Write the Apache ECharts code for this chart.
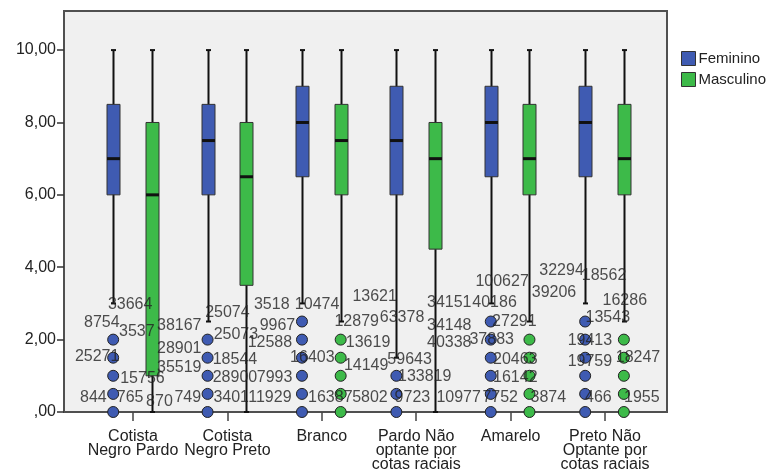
<!DOCTYPE html>
<html>
<head>
<meta charset="utf-8">
<script src="https://cdn.jsdelivr.net/npm/echarts@6/dist/echarts.min.js"></script>
<style>
  html, body { margin: 0; background: #fff; }
  #main { width: 776px; height: 470px; }
</style>
</head>
<body>
<div id="main"></div>
<script>
var categories = ['Cotista\nNegro Pardo', 'Cotista\nNegro Preto', 'Branco', 'Pardo Não\noptante por\ncotas raciais', 'Amarelo', 'Preto Não\nOptante por\ncotas raciais'];
var yTicks = [0, 2, 4, 6, 8, 10];

// [min, Q1, mediana, Q3, max] por grupo
var femininoBox = [[3, 6, 7, 8.5, 10], [2.5, 6, 7.5, 8.5, 10], [3, 6.5, 8, 9, 10], [1.5, 6, 7.5, 9, 10], [3, 6.5, 8, 9, 10], [3, 6.5, 8, 9, 10]];
var masculinoBox = [[0, 1, 6, 8, 10], [0, 3.5, 6.5, 8, 10], [2.5, 6, 7.5, 8.5, 10], [0, 4.5, 7, 8, 10], [2.5, 6, 7, 8.5, 10], [2.5, 6, 7, 8.5, 10]];

// outliers por grupo
var femininoOut = [[2, 1.5, 1, 0.5, 0], [2, 1.5, 1, 0.5, 0], [2.5, 2, 1.5, 1, 0.5, 0], [1, 0.5, 0], [2.5, 2, 1.5, 1, 0.5, 0], [2.5, 2, 1.5, 1, 0.5, 0]];
var masculinoOut = [[], [], [2, 1.5, 1, 0.5, 0], [], [2, 1.5, 1, 0.5, 0], [2, 1.5, 1, 0.5, 0]];

// rótulos dos casos: [id, grupo (x), nota (y)]
var caseLabels = [
  ['33664', -0.03, 2.98], ['8754', -0.33, 2.46], ['3537', 0.04, 2.21], ['25271', -0.38, 1.52],
  ['15756', 0.10, 0.91], ['844', -0.42, 0.39], ['765', -0.03, 0.39], ['870', 0.28, 0.30],
  ['38167', 0.49, 2.40], ['28901', 0.49, 1.74], ['35519', 0.49, 1.24], ['749', 0.58, 0.41],
  ['25074', 1.00, 2.76], ['25073', 1.09, 2.15], ['18544', 1.08, 1.46], ['28900', 1.08, 0.94],
  ['3401', 1.04, 0.39], ['11929', 1.45, 0.39],
  ['3518', 1.47, 2.96], ['10474', 1.95, 2.96], ['9967', 1.53, 2.40], ['12588', 1.45, 1.91],
  ['16403', 1.90, 1.49], ['7993', 1.50, 0.94], ['12879', 2.37, 2.49], ['13619', 2.49, 1.93],
  ['14149', 2.47, 1.27], ['16387', 2.09, 0.41], ['5802', 2.51, 0.41], ['9723', 2.96, 0.41],
  ['13621', 2.56, 3.18], ['63378', 2.85, 2.62], ['59643', 2.93, 1.46], ['133819', 3.09, 0.97],
  ['34151', 3.35, 3.01], ['40186', 3.83, 3.01], ['34148', 3.35, 2.40], ['40338', 3.35, 1.91],
  ['10977', 3.45, 0.41], ['7752', 3.89, 0.41],
  ['100627', 3.91, 3.59], ['27291', 4.04, 2.49], ['37883', 3.80, 1.99], ['20463', 4.05, 1.44],
  ['16142', 4.05, 0.94], ['3874', 4.40, 0.39], ['32294', 4.54, 3.92], ['39206', 4.46, 3.29],
  ['18562', 4.99, 3.76], ['16286', 5.21, 3.09], ['13543', 5.03, 2.60], ['19413', 4.84, 1.96],
  ['19759', 4.84, 1.38], ['18247', 5.35, 1.49], ['466', 4.93, 0.39], ['1955', 5.39, 0.39]
];

var FEM_COLOR = '#3f5bb2';
var MASC_COLOR = '#3dba49';
var FEM_OFFSET = -0.21;
var MASC_OFFSET = 0.2;
var FONT = 'Arial, "Liberation Sans", sans-serif';

var chartDom = document.getElementById('main');
var myChart = echarts.init(chartDom);
var option;

function boxData(list) {
  return list.map(function (b, i) {
    return [i].concat(b);
  });
}

function outlierData(list, offset) {
  var out = [];
  list.forEach(function (vals, i) {
    vals.forEach(function (v) {
      out.push([i + offset, v]);
    });
  });
  return out;
}

// desenha caixa estilo SPSS
function renderBox(offset) {
  return function (params, api) {
    var x = api.value(0) + offset;
    var pMin = api.coord([x, api.value(1)]);
    var pQ1 = api.coord([x, api.value(2)]);
    var pMed = api.coord([x, api.value(3)]);
    var pQ3 = api.coord([x, api.value(4)]);
    var pMax = api.coord([x, api.value(5)]);
    var cx = Math.round(pMin[0]) + 0.5;
    var hw = 6.5;
    var cap = 2.5;
    var line = { stroke: '#111', lineWidth: 2 };
    return {
      type: 'group',
      children: [
        { type: 'line', shape: { x1: cx, y1: pMax[1], x2: cx, y2: pMin[1] }, style: line },
        { type: 'line', shape: { x1: cx - cap, y1: pMax[1], x2: cx + cap, y2: pMax[1] }, style: line },
        { type: 'line', shape: { x1: cx - cap, y1: pMin[1], x2: cx + cap, y2: pMin[1] }, style: line },
        {
          type: 'rect',
          shape: { x: cx - hw, y: pQ3[1], width: hw * 2, height: pQ1[1] - pQ3[1] },
          style: { fill: api.visual('color'), stroke: '#333', lineWidth: 1 }
        },
        { type: 'line', shape: { x1: cx - hw, y1: pMed[1], x2: cx + hw, y2: pMed[1] }, style: { stroke: '#111', lineWidth: 3 } }
      ]
    };
  };
}

option = {
  animation: false,
  textStyle: { fontFamily: FONT },
  legend: {
    data: ['Feminino', 'Masculino'],
    orient: 'vertical',
    left: 681,
    top: 51,
    icon: 'rect',
    itemWidth: 14,
    itemHeight: 14,
    itemGap: 6,
    padding: 0,
    itemStyle: { borderColor: '#333', borderWidth: 1 },
    textStyle: { fontSize: 15, color: '#222', fontFamily: FONT, padding: [0, 0, 0, -2] }
  },
  grid: {
    show: true,
    left: 64,
    right: 109,
    top: 11,
    bottom: 58,
    outerBoundsMode: 'none',
    containLabel: false,
    backgroundColor: '#f0f0f0',
    borderColor: '#505050',
    borderWidth: 2
  },
  xAxis: {
    type: 'value',
    min: -0.731,
    max: 5.657,
    splitLine: { show: false },
    axisLine: { show: false, onZero: false },
    axisTick: {
      show: true,
      customValues: [0, 1, 2, 3, 4, 5],
      length: 9,
      lineStyle: { color: '#444', width: 1.5 }
    },
    axisLabel: {
      customValues: [0, 1, 2, 3, 4, 5],
      formatter: function (v) { return categories[Math.round(v)]; },
      margin: 18,
      fontSize: 16,
      lineHeight: 14,
      color: '#222',
      verticalAlign: 'top'
    }
  },
  yAxis: {
    type: 'value',
    min: 0,
    max: 11.08,
    splitLine: { show: false },
    axisLine: { show: false, onZero: false },
    axisTick: {
      show: true,
      customValues: yTicks,
      length: 7,
      lineStyle: { color: '#333', width: 1.5 }
    },
    axisLabel: {
      customValues: yTicks,
      margin: 8,
      fontSize: 16,
      color: '#222',
      formatter: function (v) {
        return v === 0 ? ',00' : v.toFixed(2).replace('.', ',');
      }
    }
  },
  series: [
    {
      name: 'Feminino',
      type: 'custom',
      itemStyle: { color: FEM_COLOR },
      renderItem: renderBox(FEM_OFFSET),
      encode: { x: 0, y: [1, 2, 3, 4, 5] },
      data: boxData(femininoBox),
      z: 2
    },
    {
      name: 'Masculino',
      type: 'custom',
      itemStyle: { color: MASC_COLOR },
      renderItem: renderBox(MASC_OFFSET),
      encode: { x: 0, y: [1, 2, 3, 4, 5] },
      data: boxData(masculinoBox),
      z: 2
    },
    {
      name: 'Feminino',
      type: 'scatter',
      symbolSize: 11,
      itemStyle: { color: FEM_COLOR, borderColor: '#222', borderWidth: 1, opacity: 1 },
      data: outlierData(femininoOut, FEM_OFFSET),
      z: 3
    },
    {
      name: 'Masculino',
      type: 'scatter',
      symbolSize: 11,
      itemStyle: { color: MASC_COLOR, borderColor: '#222', borderWidth: 1, opacity: 1 },
      data: outlierData(masculinoOut, MASC_OFFSET),
      z: 3
    },
    {
      name: 'rotulos',
      type: 'scatter',
      symbolSize: 0,
      silent: true,
      data: caseLabels.map(function (c) {
        return { name: c[0], value: [c[1], c[2]] };
      }),
      label: {
        show: true,
        position: 'inside',
        formatter: '{b}',
        fontSize: 16,
        color: '#222',
        fontFamily: FONT
      },
      labelLayout: { hideOverlap: false },
      z: 4
    }
  ]
};

option && myChart.setOption(option);
</script>
</body>
</html>
